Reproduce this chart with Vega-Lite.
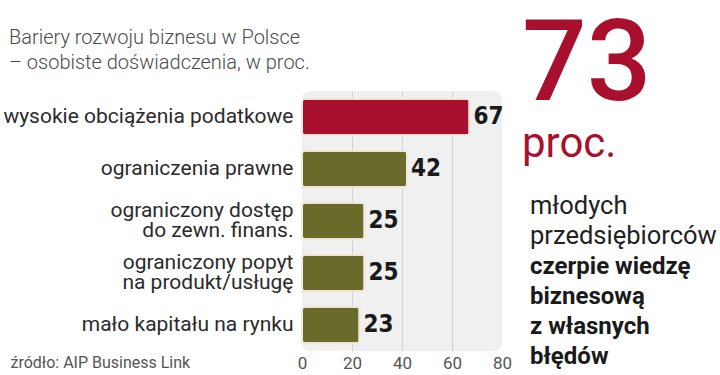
{
  "$schema": "https://vega.github.io/schema/vega-lite/v6.json",
  "padding": {"left": 2, "top": 9, "right": 0, "bottom": 0},
  "background": "white",
  "spacing": 10,
  "config": {"font": "Roboto", "view": {"stroke": null}},
  "hconcat": [
    {
      "width": 200,
      "height": 260,
      "title": {
        "text": ["Bariery rozwoju biznesu w Polsce", "– osobiste doświadczenia, w proc."],
        "fontSize": 20,
        "lineHeight": 25,
        "font": "Roboto",
        "fontWeight": 300,
        "color": "#4a4a4a",
        "anchor": "start",
        "frame": "bounds",
        "dx": 6,
        "offset": 18
      },
      "view": {"fill": "#f0f0f0", "cornerRadius": 8, "stroke": null},
      "data": {
        "values": [
          {"bariera": "wysokie obciążenia podatkowe", "proc": 67},
          {"bariera": "ograniczenia prawne", "proc": 42},
          {"bariera": "ograniczony dostęp|do zewn. finans.", "proc": 25},
          {"bariera": "ograniczony popyt|na produkt/usługę", "proc": 25},
          {"bariera": "mało kapitału na rynku", "proc": 23}
        ]
      },
      "encoding": {
        "y": {
          "field": "bariera",
          "type": "nominal",
          "sort": null,
          "scale": {"paddingInner": 0.3, "paddingOuter": 0.15},
          "axis": {
            "title": null,
            "labelExpr": "split(datum.value, '|')",
            "labelFont": "Roboto",
            "labelFontSize": 21,
            "labelColor": "#2b2b2b",
            "labelPadding": 9,
            "labelLineHeight": 20,
            "labelLimit": 400,
            "labelOffset": {"condition": {"test": "indexof(datum.value, '|') >= 0", "value": -10}, "value": 0},
            "ticks": false,
            "domain": false
          }
        },
        "x": {
          "field": "proc",
          "type": "quantitative",
          "scale": {"domain": [0, 80], "nice": false},
          "axis": {
            "values": [0, 20, 40, 60, 80],
            "title": "źródło: AIP  Business Link",
            "titleX": -292,
            "titleY": 11,
            "titleAlign": "left",
            "titleBaseline": "middle",
            "titleFontSize": 16,
            "titleFontWeight": "normal",
            "titleColor": "#555555",
            "grid": true,
            "gridColor": "#d2d2d2",
            "gridOpacity": {"condition": {"test": "datum.value == 0 || datum.value == 80", "value": 0}, "value": 1},
            "domain": false,
            "ticks": false,
            "labelFlush": false,
            "labelFontSize": 17,
            "labelColor": "#555555",
            "labelPadding": 4
          }
        }
      },
      "layer": [
        {
          "mark": {"type": "bar", "cornerRadius": 3, "stroke": "#efeadb", "strokeWidth": 2},
          "encoding": {
            "color": {"condition": {"test": "datum.proc == 67", "value": "#a8102e"}, "value": "#6a6a2a"}
          }
        },
        {
          "mark": {"type": "text", "align": "left", "baseline": "middle", "dx": 4, "font": "DejaVu Sans Condensed", "fontWeight": "bold", "fontSize": 24, "color": "#1a1a1a"},
          "encoding": {"text": {"field": "proc", "type": "quantitative"}}
        }
      ]
    },
    {
      "width": 180,
      "height": 273,
      "title": {
        "text": "73",
        "fontSize": 114,
        "font": "Roboto",
        "fontWeight": 500,
        "color": "#a8102e",
        "subtitle": "proc.",
        "subtitleFont": "Roboto",
        "subtitleFontSize": 42,
        "subtitleColor": "#a8102e",
        "subtitlePadding": 0,
        "anchor": "start",
        "frame": "group",
        "dx": -8,
        "offset": -75
      },
      "encoding": {
        "y": {
          "field": "linia",
          "type": "nominal",
          "scale": {"type": "point", "padding": 0, "range": [123, 273], "domain": ["młodych", "przedsiębiorców", "czerpie wiedzę", "biznesową", "z własnych", "błędów"]},
          "axis": null
        },
        "x": {"datum": 0, "type": "quantitative", "scale": {"domain": [0, 1]}, "axis": null},
        "text": {"field": "linia", "type": "nominal"}
      },
      "layer": [
        {
          "data": {"values": [{"linia": "młodych"}, {"linia": "przedsiębiorców"}]},
          "mark": {"type": "text", "align": "left", "baseline": "alphabetic", "font": "Roboto", "fontSize": 25.5, "color": "#222222"}
        },
        {
          "data": {"values": [{"linia": "czerpie wiedzę"}, {"linia": "biznesową"}, {"linia": "z własnych"}, {"linia": "błędów"}]},
          "mark": {"type": "text", "align": "left", "baseline": "alphabetic", "font": "Roboto", "fontWeight": "bold", "fontSize": 24, "color": "#1a1a1a"}
        }
      ]
    }
  ]
}
